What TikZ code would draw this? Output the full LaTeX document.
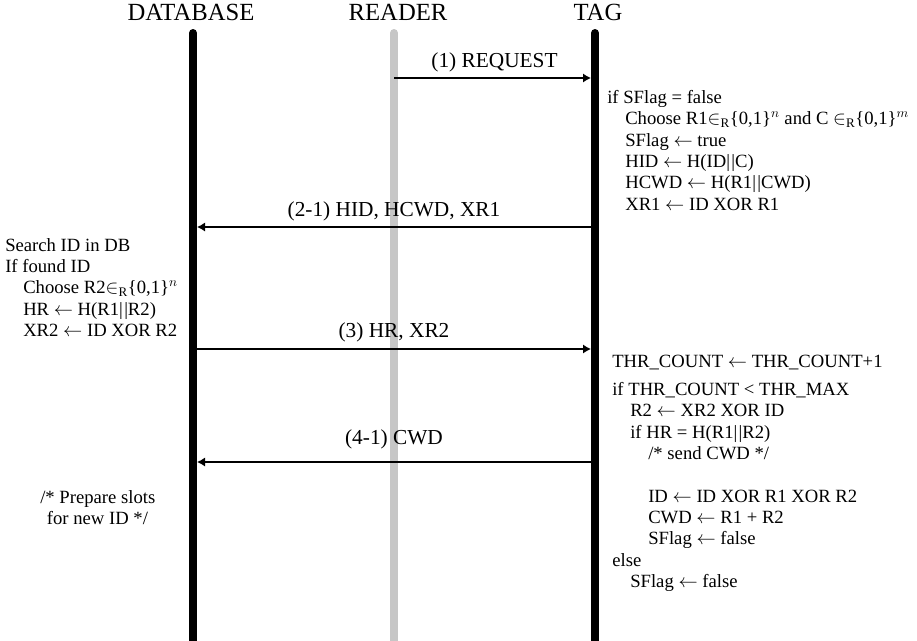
\documentclass[tikz,border=0pt]{standalone}
\usepackage{fontspec}
\setmainfont{Liberation Serif}
\usetikzlibrary{arrows.meta}
\newcommand{\inR}{$\in_{\mathrm{R}}$}
\newcommand{\lar}{$\leftarrow$}
\newcommand{\ind}{\hspace*{13.5pt}}
\newcommand{\cat}{\textbar\kern1pt\textbar}

\begin{document}
\begin{tikzpicture}[x=0.75pt,y=-0.75pt,>={Latex[length=6pt,width=7pt]},
  lifeline/.style={line width=6pt,line cap=round},
  msg/.style={->,line width=2pt,shorten >=3pt},
  lbl/.style={font=\fontsize{16}{19}\selectfont,above=0pt},
  head/.style={font=\fontsize{18.5}{22}\selectfont,anchor=base,inner sep=0pt},
  code/.style={font=\fontsize{14}{16}\selectfont,align=left,anchor=north west,inner sep=0pt}]
\useasboundingbox (0,0) rectangle (917,640);

% entities
\node[head] (db) at (191,20) {DATABASE};
\node[head] (rd) at (398,20) {READER};
\node[head] (tg) at (598,20) {TAG};
\coordinate (dbtop) at (193,33);\coordinate (dbbot) at (193,650);
\coordinate (rdtop) at (394,33);\coordinate (rdbot) at (394,650);
\coordinate (tgtop) at (595,33);\coordinate (tgbot) at (595,650);
\draw[lifeline] (dbtop)--(dbbot);
\draw[lifeline,gray!45] (rdtop)--(rdbot);
\draw[lifeline] (tgtop)--(tgbot);

% messages
\coordinate (r1) at (394,78);\coordinate (t1) at (595,78);
\coordinate (t2) at (595,227);\coordinate (d2) at (193,227);
\coordinate (d3) at (193,349);\coordinate (t3) at (595,349);
\coordinate (t4) at (595,462);\coordinate (d4) at (193,462);
\draw[msg] (r1)--(t1) node[midway,lbl]{(1) REQUEST};
\draw[msg] (t2)--(d2) node[midway,lbl]{(2-1) HID, HCWD, XR1};
\draw[msg] (d3)--(t3) node[midway,lbl,above=1pt]{(3) HR, XR2};
\draw[msg] (t4)--(d4) node[midway,lbl,above=5.5pt]{(4-1) CWD};

% computations
\node[code] (tagA) at (607,90) {if SFlag = false\\
\ind Choose R1\inR\{0,1\}$^{n}$ and C \inR\{0,1\}$^{m}$\\
\ind SFlag \lar{} true\\
\ind HID \lar{} H(ID\cat C)\\
\ind HCWD \lar{} H(R1\cat CWD)\\
\ind XR1 \lar{} ID XOR R1};
\node[code] (dbA) at (5,238) {Search ID in DB\\
If found ID\\
\ind Choose R2\inR\{0,1\}$^{n}$\\
\ind HR \lar{} H(R1\cat R2)\\
\ind XR2 \lar{} ID XOR R2};
\node[code] (tagB) at (612,355) {THR\_COUNT \lar{} THR\_COUNT+1\\[5pt]
if THR\_COUNT < THR\_MAX\\
\ind R2 \lar{} XR2 XOR ID\\
\ind if HR = H(R1\cat R2)\\
\ind\ind /* send CWD */\\[16pt]
\ind\ind ID \lar{} ID XOR R1 XOR R2\\
\ind\ind CWD \lar{} R1 + R2\\
\ind\ind SFlag \lar{} false\\
else\\
\ind SFlag \lar{} false};
\node[code] (dbB) at (40,490) {/* Prepare slots\\
\hspace*{5pt}for new ID */};
\end{tikzpicture}
\end{document}
